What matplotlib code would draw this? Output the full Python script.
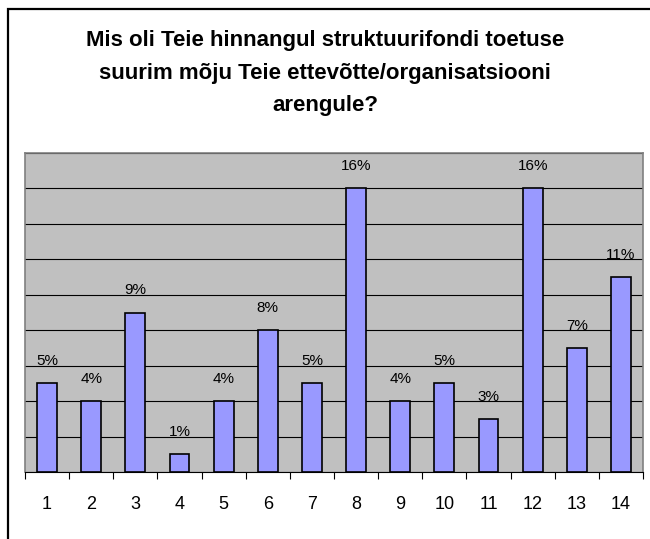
import matplotlib
matplotlib.use("Agg")
import matplotlib.pyplot as plt
from matplotlib.patches import Rectangle
from matplotlib.ticker import MultipleLocator

# answer categories and share of respondents (%)
categories = [str(i) for i in range(1, 15)]
shares = [5, 4, 9, 1, 4, 8, 5, 16, 4, 5, 3, 16, 7, 11]

title = ("Mis oli Teie hinnangul struktuurifondi toetuse\n"
         "suurim mõju Teie ettevõtte/organisatsiooni\n"
         "arengule?")

plt.rcParams["font.family"] = ["Liberation Sans", "DejaVu Sans"]

fig = plt.figure(figsize=(6.5, 5.39), dpi=100)
W, H = 650, 539

# outer chart frame
fig.patches.append(Rectangle((7.5 / W, -0.1), 1.2, 1 - 8.5 / H + 0.1,
                             transform=fig.transFigure, fill=False,
                             edgecolor="black", linewidth=1.6))

fig.text(0.5, 1 - 73 / H, title, ha="center", va="center",
         fontsize=16, fontweight="bold", linespacing=1.7)

ax = fig.add_axes([25 / W, 1 - 472 / H, 618 / W, 319 / H])
ax.set_facecolor("#C0C0C0")

x = list(range(len(categories)))
ax.bar(x, shares, width=0.45, color="#9999FF", edgecolor="black",
       linewidth=1.2, zorder=3)

for xi, v in zip(x, shares):
    ax.annotate(f"{v}%", (xi, v), xytext=(0, 22), textcoords="offset pixels",
                ha="center", va="center", fontsize=11, zorder=4)

ax.set_xlim(-0.5, len(categories) - 0.5)
ax.set_ylim(0, 18)
ax.yaxis.set_major_locator(MultipleLocator(2))
ax.yaxis.grid(True, color="black", linewidth=0.8, zorder=1)
ax.set_axisbelow(True)
ax.tick_params(axis="y", left=False, labelleft=False)

# category labels centred, ticks on the category boundaries
ax.set_xticks(x)
ax.set_xticklabels(categories, fontsize=13)
ax.tick_params(axis="x", which="major", length=0, pad=17)
ax.set_xticks([i - 0.5 for i in range(len(categories) + 1)], minor=True)
ax.tick_params(axis="x", which="minor", length=5, width=0.8, color="black",
               direction="out")

for side in ("top", "left", "right"):
    ax.spines[side].set_color("#808080")
    ax.spines[side].set_linewidth(1.2)
ax.spines["bottom"].set_color("black")
ax.spines["bottom"].set_linewidth(0.8)

plt.savefig("out.png", dpi=100)
plt.close()
